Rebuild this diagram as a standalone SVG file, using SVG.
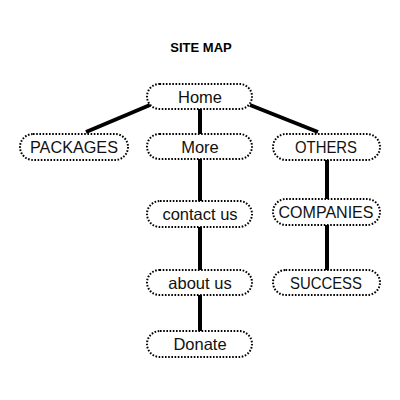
<svg xmlns="http://www.w3.org/2000/svg" width="400" height="400" viewBox="0 0 400 400">
<style>
.box{fill:#fff;stroke:#000;stroke-width:2;stroke-dasharray:1.6 1.6}
.lbl{font-family:"Liberation Sans",Arial,sans-serif;font-size:16.5px;fill:#111;text-anchor:middle;dominant-baseline:central}
.ttl{font-family:"Liberation Sans",Arial,sans-serif;font-size:13px;font-weight:bold;fill:#000;text-anchor:middle}
.con{stroke:#000;stroke-width:4;fill:none}
</style>
<rect width="400" height="400" fill="#fff"/>
<text class="ttl" x="201" y="52">SITE MAP</text>
<g id="connectors">
<line class="con" x1="150" y1="105" x2="86" y2="132"/>
<line class="con" x1="250" y1="105" x2="318" y2="132"/>
<line class="con" x1="200" y1="109" x2="200" y2="134"/>
<line class="con" x1="200" y1="159" x2="200" y2="201"/>
<line class="con" x1="200" y1="227" x2="200" y2="270"/>
<line class="con" x1="200" y1="295" x2="200" y2="331"/>
<line class="con" x1="327" y1="160" x2="327" y2="199"/>
<line class="con" x1="327" y1="225" x2="327" y2="270"/>
</g>
<g id="home"><rect class="box" x="147" y="84" width="105" height="25" rx="12.5"/><text class="lbl" x="200" y="96.5">Home</text></g>
<g id="packages"><rect class="box" x="20" y="134" width="108" height="26" rx="13"/><text class="lbl" x="74" y="147" textLength="88" lengthAdjust="spacingAndGlyphs">PACKAGES</text></g>
<g id="more"><rect class="box" x="147" y="134" width="105" height="25" rx="12.5"/><text class="lbl" x="200" y="146.5">More</text></g>
<g id="others"><rect class="box" x="273" y="134" width="107" height="26" rx="13"/><text class="lbl" x="326" y="147" textLength="62" lengthAdjust="spacingAndGlyphs">OTHERS</text></g>
<g id="contact"><rect class="box" x="147" y="201" width="105" height="26" rx="13"/><text class="lbl" x="200" y="214">contact us</text></g>
<g id="companies"><rect class="box" x="273" y="199" width="107" height="26" rx="13"/><text class="lbl" x="326" y="212" textLength="95" lengthAdjust="spacingAndGlyphs">COMPANIES</text></g>
<g id="about"><rect class="box" x="147" y="270" width="105" height="25" rx="12.5"/><text class="lbl" x="200" y="282.5">about us</text></g>
<g id="success"><rect class="box" x="273" y="270" width="107" height="25" rx="12.5"/><text class="lbl" x="326" y="282.5" textLength="72" lengthAdjust="spacingAndGlyphs">SUCCESS</text></g>
<g id="donate"><rect class="box" x="147" y="331" width="105" height="26" rx="13"/><text class="lbl" x="200" y="344">Donate</text></g>
</svg>
